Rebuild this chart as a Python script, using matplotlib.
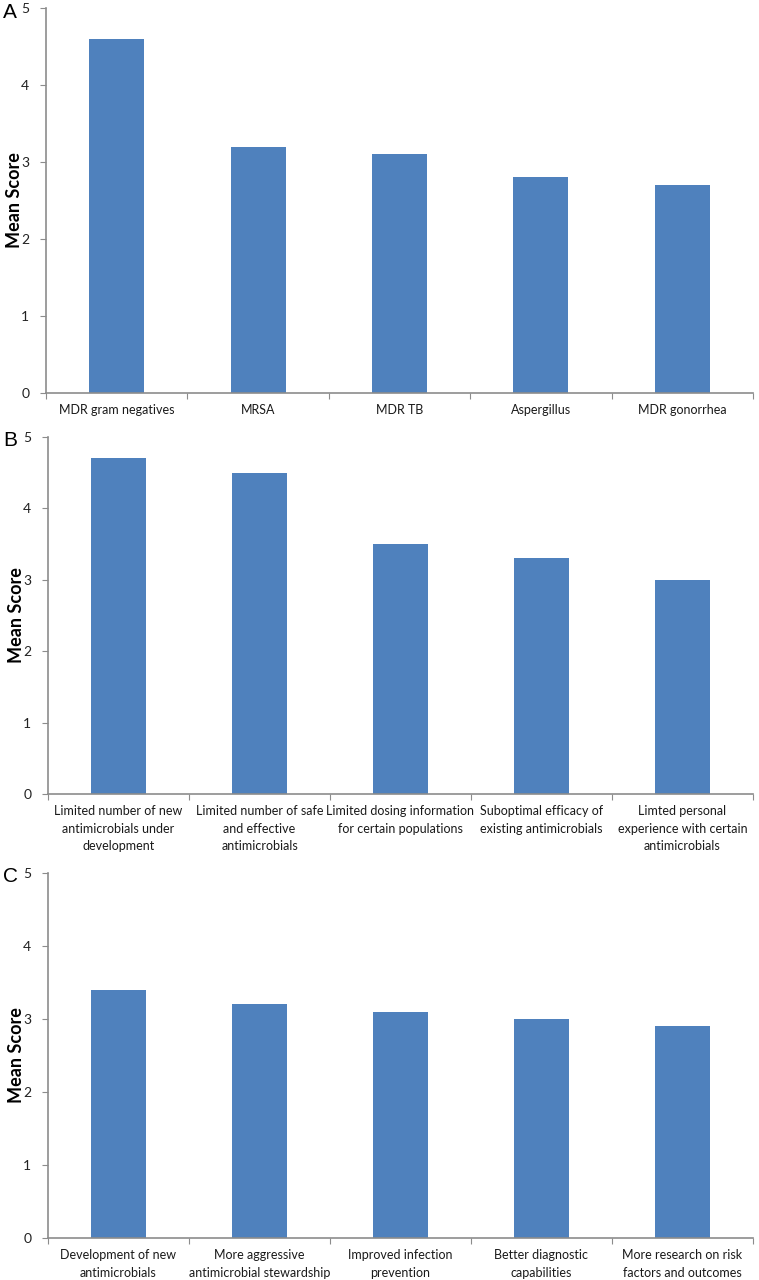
import matplotlib
matplotlib.use("Agg")
import matplotlib.pyplot as plt

plt.rcParams['font.family'] = ['Lato', 'DejaVu Sans']

panel_letters = ["A", "B", "C"]

cats_a = ["MDR gram negatives", "MRSA", "MDR TB", "Aspergillus", "MDR gonorrhea"]
vals_a = [4.6, 3.2, 3.1, 2.8, 2.7]

cats_b = ["Limited number of new\nantimicrobials under\ndevelopment",
          "Limited number of safe\nand effective\nantimicrobials",
          "Limited dosing information\nfor certain populations",
          "Suboptimal efficacy of\nexisting antimicrobials",
          "Limted personal\nexperience with certain\nantimicrobials"]
vals_b = [4.7, 4.5, 3.5, 3.3, 3.0]

cats_c = ["Development of new\nantimicrobials",
          "More aggressive\nantimicrobial stewardship",
          "Improved infection\nprevention",
          "Better diagnostic\ncapabilities",
          "More research on risk\nfactors and outcomes"]
vals_c = [3.4, 3.2, 3.1, 3.0, 2.9]

yticks = [0, 1, 2, 3, 4, 5]
bar_color = "#4F81BD"
spine_color = "#8C8C8C"

W, H = 759, 1280
fig = plt.figure(figsize=(W / 100, H / 100), dpi=100)

# (left px, right px, top px, bottom px)
boxes = [(46, 753, 8, 393), (48, 753, 437, 794), (48, 753, 873, 1238)]
data = [(cats_a, vals_a), (cats_b, vals_b), (cats_c, vals_c)]

for letter, (l, r, t, b), (cats, vals) in zip(panel_letters, boxes, data):
    ax = fig.add_axes([l / W, 1 - b / H, (r - l) / W, (b - t) / H])
    x = list(range(len(cats)))
    ax.bar(x, vals, width=0.39, color=bar_color, zorder=2)
    ax.set_xlim(-0.5, len(cats) - 0.5)
    ax.set_ylim(0, 5)
    ax.set_yticks(yticks)
    ax.set_yticklabels([str(v) for v in yticks], fontsize=10, color="#222222")
    ax.set_xticks([i - 0.5 for i in range(len(cats) + 1)])
    ax.set_xticklabels([])
    ax.set_xticks(x, minor=True)
    ax.set_xticklabels(cats, minor=True, fontsize=9, color="#1a1a1a",
                       linespacing=1.55, va="top")
    ax.tick_params(axis="x", which="minor", length=0, pad=8)
    ax.tick_params(axis="x", which="major", length=4, color=spine_color, direction="out")
    ax.tick_params(axis="y", length=4, color=spine_color, direction="out", pad=8)
    for s in ["top", "right"]:
        ax.spines[s].set_visible(False)
    for s in ["left", "bottom"]:
        ax.spines[s].set_color(spine_color)
        ax.spines[s].set_linewidth(1.2)
    ax.set_ylabel("Mean Score", fontsize=13, fontweight="bold")
    ax.yaxis.set_label_coords(-0.033, 0.5)
    fig.text(3 / W, 1 - (t + 4) / H, letter, fontsize=15,
             family=["Liberation Sans", "DejaVu Sans"], va="center", ha="left")

fig.savefig("out.png", dpi=100)
